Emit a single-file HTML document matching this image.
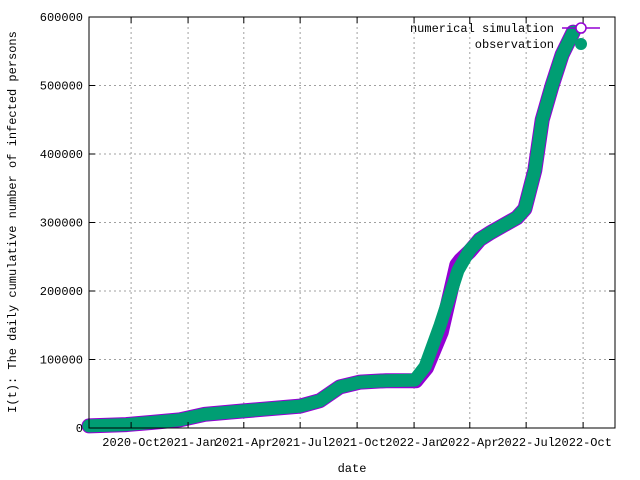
<!DOCTYPE html>
<html><head><meta charset="utf-8"><style>
html,body{margin:0;padding:0;background:#fff;}
svg{display:block;font-family:"Liberation Mono","DejaVu Sans Mono",monospace;font-size:12px;}
</style></head><body>
<svg id="chart" width="640" height="480" viewBox="0 0 640 480">
<rect width="640" height="480" fill="#fff"/>
<g id="grid"></g>
<g id="series"></g>
<rect x="89" y="17" width="526" height="411" fill="none" stroke="#000" stroke-width="1"/>
<g id="ticks"></g>
<text x="352" y="472" text-anchor="middle">date</text>
<text transform="translate(16,222) rotate(-90)" text-anchor="middle">I(t): The daily cumulative number of infected persons</text>
<g>
<text x="554" y="32" text-anchor="end">numerical simulation</text>
<line x1="562" y1="28" x2="600" y2="28" stroke="#9400d3" stroke-width="1.5"/>
<circle cx="581" cy="28" r="5" fill="#fff" stroke="#9400d3" stroke-width="1.5"/>
<text x="554" y="48" text-anchor="end">observation</text>
<circle cx="581" cy="44" r="6" fill="#009e73"/>
</g>
</svg>
<script>
// days since 2020-07-25
const obsDays = [0, 60, 100, 147, 187, 250, 341, 373, 405, 438, 480, 526, 543, 567, 596, 615, 631, 648, 691, 704, 720, 732, 748, 764, 782];
const obsVals = [3000, 5000, 8000, 12000, 20000, 25000, 32000, 40000, 60000, 67000, 69000, 70000, 90000, 150000, 230000, 260000, 275000, 285000, 307000, 320000, 376000, 450000, 500000, 545000, 578000];
const simDays = [0, 60, 100, 147, 187, 250, 341, 373, 405, 438, 480, 528, 545, 569, 594, 600, 615, 631, 648, 691, 704, 720, 732, 748, 764, 782];
const simVals = [3000, 5000, 8000, 12000, 20000, 25000, 32000, 40000, 60000, 67000, 69000, 69000, 88000, 140000, 238000, 245000, 258000, 275000, 285000, 307000, 320000, 376000, 450000, 500000, 545000, 578000];
const yTicks = [0, 100000, 200000, 300000, 400000, 500000, 600000];
const xTickDays = [68, 160, 250, 341, 433, 525, 615, 706, 798];
const xTickLabels = ["2020-Oct", "2021-Jan", "2021-Apr", "2021-Jul", "2021-Oct", "2022-Jan", "2022-Apr", "2022-Jul", "2022-Oct"];

const L=89,R=615,T=17,B=428;
const X=d=>L+d*(452/730);
const Y=v=>B-v*(B-T)/600000;
const NS="http://www.w3.org/2000/svg";
function mk(tag,attrs,parent){const e=document.createElementNS(NS,tag);for(const k in attrs)e.setAttribute(k,attrs[k]);parent.appendChild(e);return e;}
const grid=document.getElementById('grid'),ticks=document.getElementById('ticks'),series=document.getElementById('series');
yTicks.forEach((v,i)=>{
  const y=Y(v);
  if(v>0&&v<600000){const g=mk('line',{x1:L,x2:R,y1:y,y2:y,stroke:'#a0a0a0','stroke-dasharray':'2,3','stroke-width':1},grid);
  
  }
  const t1=mk('line',{x1:L,x2:L+6,y1:y,y2:y,stroke:'#000'},ticks);
  
  
  const t2=mk('line',{x1:R,x2:R-6,y1:y,y2:y,stroke:'#000'},ticks);
  
  
  const lb=mk('text',{x:83,y:y+4,'text-anchor':'end'},ticks);lb.textContent=v;
  
  
});
xTickDays.forEach((d,i)=>{
  const x=X(d);
  const g=mk('line',{x1:x,x2:x,y1:T,y2:B,stroke:'#a0a0a0','stroke-dasharray':'2,3','stroke-width':1},grid);
  
  
  const t1=mk('line',{x1:x,x2:x,y1:B,y2:B-6,stroke:'#000'},ticks);
  
  
  const t2=mk('line',{x1:x,x2:x,y1:T,y2:T+6,stroke:'#000'},ticks);
  
  
  const lb=mk('text',{x:x,y:446,'text-anchor':'middle'},ticks);lb.textContent=xTickLabels[i];
  
  
});
function path(days,vals){return days.map((d,i)=>(i?'L':'M')+X(d).toFixed(1)+','+Y(vals[i]).toFixed(1)).join(' ');}
const sim=mk('path',{d:path(simDays,simVals),fill:'none',stroke:'#9400d3','stroke-width':15,'stroke-linejoin':'round','stroke-linecap':'round'},series);


const obs=mk('path',{d:path(obsDays,obsVals),fill:'none',stroke:'#009e73','stroke-width':13,'stroke-linejoin':'round','stroke-linecap':'round'},series);


</script>
</body></html>
